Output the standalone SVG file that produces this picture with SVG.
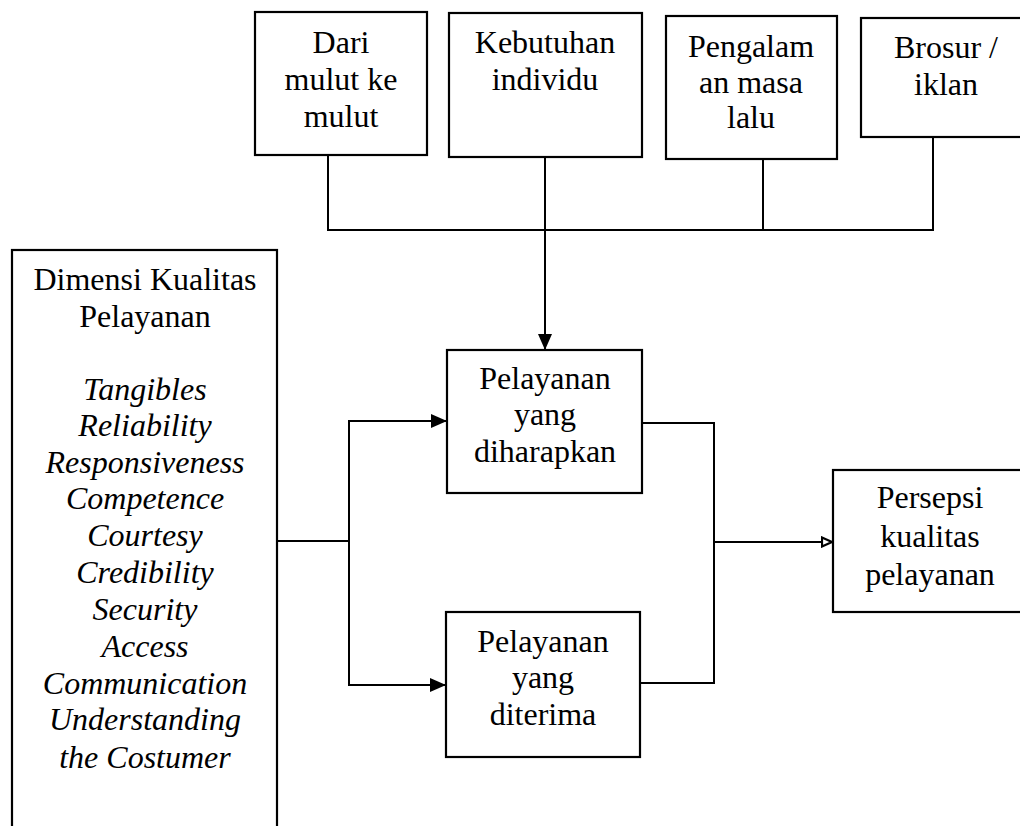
<svg xmlns="http://www.w3.org/2000/svg" width="1020" height="826" viewBox="0 0 1020 826">
<defs>
<style>
.box{fill:#fff;stroke:#000;stroke-width:2.2}
.ln{fill:none;stroke:#000;stroke-width:2}
.t{font-family:'Liberation Serif','Times New Roman','DejaVu Serif',serif;font-size:32px;fill:#000;text-anchor:middle}
.it{font-style:italic}
</style>
<marker id="ah" markerWidth="16" markerHeight="14" refX="16" refY="7" orient="auto" markerUnits="userSpaceOnUse">
<path d="M0,0 L16,7 L0,14 Z" fill="#000"/>
</marker>
<marker id="ahs" markerWidth="12" markerHeight="12" refX="12" refY="6" orient="auto" markerUnits="userSpaceOnUse">
<path d="M1,1.5 L11,6 L1,10.5 Z" fill="#fff" stroke="#000" stroke-width="2.2"/>
</marker>
</defs>
<rect width="1020" height="826" fill="#fff"/>
<g id="connectors">
<polyline class="ln" points="328,155 328,230 933,230 933,137"/>
<line class="ln" x1="763" y1="159" x2="763" y2="230"/>
<line class="ln" x1="545" y1="157" x2="545" y2="350" marker-end="url(#ah)"/>
<line class="ln" x1="277" y1="541" x2="349" y2="541"/>
<line class="ln" x1="349" y1="420" x2="349" y2="686"/>
<line class="ln" x1="348" y1="421" x2="447" y2="421" marker-end="url(#ah)"/>
<line class="ln" x1="348" y1="685" x2="446" y2="685" marker-end="url(#ah)"/>
<polyline class="ln" points="642,423 714,423 714,683 640,683"/>
<line class="ln" x1="714" y1="542" x2="833" y2="542" marker-end="url(#ahs)"/>
</g>
<g id="dari" class="t">
<rect class="box" x="255" y="12" width="172" height="143"/>
<text x="341" y="53">Dari</text>
<text x="341" y="90">mulut ke</text>
<text x="341" y="127">mulut</text>
</g>
<g id="kebutuhan" class="t">
<rect class="box" x="449" y="13" width="193" height="144"/>
<text x="545" y="53">Kebutuhan</text>
<text x="545" y="90">individu</text>
</g>
<g id="pengalaman" class="t">
<rect class="box" x="666" y="16" width="171" height="143"/>
<text x="751" y="57">Pengalam</text>
<text x="751" y="93">an masa</text>
<text x="751" y="128">lalu</text>
</g>
<g id="brosur" class="t">
<rect class="box" x="861" y="18" width="170" height="119"/>
<text x="946" y="58">Brosur /</text>
<text x="946" y="95">iklan</text>
</g>
<g id="dimensi" class="t">
<rect class="box" x="12" y="250" width="265" height="600"/>
<text x="145" y="290">Dimensi Kualitas</text>
<text x="145" y="327">Pelayanan</text>
<text class="it" x="145" y="400">Tangibles</text>
<text class="it" x="145" y="436">Reliability</text>
<text class="it" x="145" y="473">Responsiveness</text>
<text class="it" x="145" y="509">Competence</text>
<text class="it" x="145" y="546">Courtesy</text>
<text class="it" x="145" y="583">Credibility</text>
<text class="it" x="145" y="620">Security</text>
<text class="it" x="145" y="657">Access</text>
<text class="it" x="145" y="694">Communication</text>
<text class="it" x="145" y="730">Understanding</text>
<text class="it" x="145" y="768">the Costumer</text>
</g>
<g id="diharapkan" class="t">
<rect class="box" x="447" y="350" width="195" height="143"/>
<text x="545" y="389">Pelayanan</text>
<text x="545" y="425">yang</text>
<text x="545" y="462">diharapkan</text>
</g>
<g id="diterima" class="t">
<rect class="box" x="446" y="612" width="194" height="145"/>
<text x="543" y="652">Pelayanan</text>
<text x="543" y="688">yang</text>
<text x="543" y="725">diterima</text>
</g>
<g id="persepsi" class="t">
<rect class="box" x="833" y="470" width="200" height="142"/>
<text x="930" y="508">Persepsi</text>
<text x="930" y="547">kualitas</text>
<text x="930" y="585">pelayanan</text>
</g>
</svg>
